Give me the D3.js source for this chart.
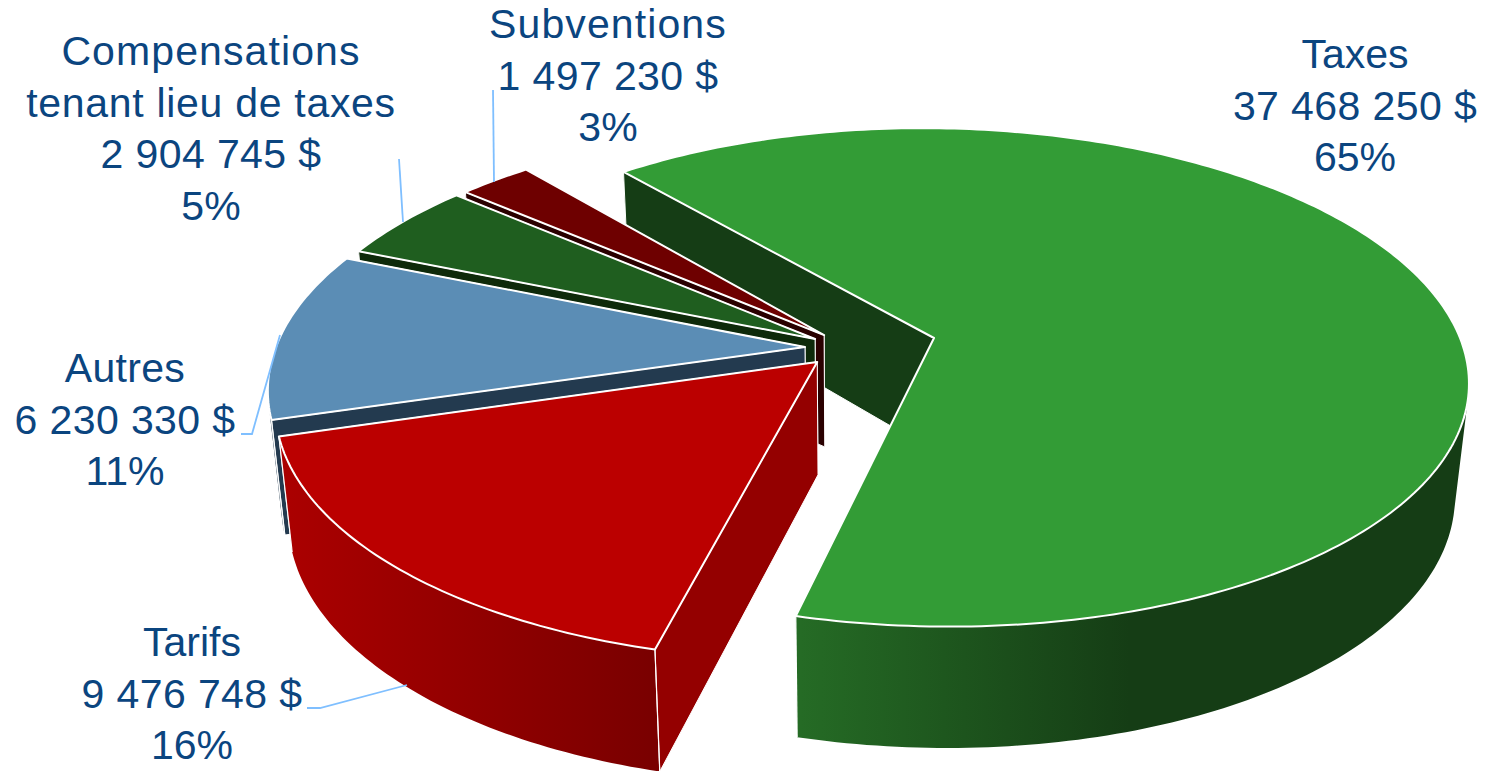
<!DOCTYPE html>
<html><head><meta charset="utf-8">
<script src="https://cdn.jsdelivr.net/npm/d3@7"></script>
<style>html,body{margin:0;padding:0;background:#fff;overflow:hidden}svg{display:block}</style>
</head><body><svg id="c" width="1485" height="771"></svg>
<script>
// --- data
const categories = ["Taxes", "Tarifs", "Autres", "Compensations tenant lieu de taxes", "Subventions"];
const values = [37468250, 9476748, 6230330, 2904745, 1497230];
// --- styles
const topColors  = ["#339c36", "#bb0000", "#5b8db5", "#1f5e1f", "#6e0000"];
const wallColors = ["#153d15", "#940000", "#233a4f", "#0e2a0a", "#2a0000"];
const rimColors  = [["#256b25", "#153d15"], ["#aa0000", "#7a0000"], ["#233a4f", "#233a4f"], ["#0e2a0a", "#0e2a0a"], ["#2a0000", "#2a0000"]];
const rimRange   = [[800, 1130], [290, 650], [260, 360], [350, 460], [460, 530]];
// --- exploded position of each slice in the pie plane (pie radius = 1)
const explodeX = [0, -0.221, -0.2447, -0.226, -0.209];
const explodeY = [0, 0.097, 0.037, 0.004, -0.012];
const drawOrder = [0, 4, 3, 2, 1];
// --- labels
const labelLines = [["Taxes"], ["Tarifs"], ["Autres"], ["Compensations", "tenant lieu de taxes"], ["Subventions"]];
const labelSpacing = [[0], [0], [0.3], [1.1, 0.7], [1.1]];
const labelX = [1355, 192, 125, 211, 608];
const labelBase = [68, 656, 382, 65, 38];
const lineGap = 51.5;
const leaders = [[], [[307,708],[320,708],[407,685]], [[241,434],[252,434],[280,335]], [[399,159],[403,222]], [[493,90],[494,182]]];

// --- perspective projection of the pie plane
const AX = 934, AY = 338, F = 526, A = 243, K = 0.158, Q = 13, VX = 852;
const thick = d3.scaleLinear().domain([-0.77, 0, 1.07]).range([102, 112, 122]);
function projTop(x, y) {
  const w = 1 - K * y;
  return [AX + (F * x + Q * y) / w, AY + A * y / w];
}
function projBottom(x, y) {
  const p = projTop(x, y), t = thick(y);
  return [p[0] + (VX - p[0]) * t / 5000, p[1] + t];
}
const svg = d3.select("#c");
const defs = svg.append("defs");
const line = d3.line();
const arcs = d3.pie().sort(null).startAngle(-40 * Math.PI / 180).endAngle(320 * Math.PI / 180)(values);
const total = d3.sum(values);

rimColors.forEach((c, i) => {
  const g = defs.append("linearGradient").attr("id", "rim" + i).attr("gradientUnits", "userSpaceOnUse")
    .attr("x1", rimRange[i][0]).attr("x2", rimRange[i][1]).attr("y1", 0).attr("y2", 0);
  g.append("stop").attr("offset", 0).attr("stop-color", c[0]);
  g.append("stop").attr("offset", 1).attr("stop-color", c[1]);
});

drawOrder.forEach(i => {
  const a = arcs[i], ox = explodeX[i], oy = explodeY[i];
  const n = Math.max(8, Math.round((a.endAngle - a.startAngle) * 60));
  const rim = d3.range(n + 1).map(k => {
    const th = a.startAngle + (a.endAngle - a.startAngle) * k / n;
    return [ox + Math.sin(th), oy - Math.cos(th)];
  });
  const g = svg.append("g").attr("class", "slice");
  const first = rim[0], last = rim[n];
  const wall = p => {
    g.append("path").attr("d", line([projTop(...p), projTop(ox, oy), projBottom(ox, oy), projBottom(...p)]) + "Z")
      .attr("fill", wallColors[i]).attr("stroke", "#fff").attr("stroke-width", 1).attr("stroke-linejoin", "round");
  };
  // hidden radial wall, then outer wall, then visible radial wall
  wall(last);
  const rimTop = rim.map(p => projTop(...p));
  // outer wall: same-orientation quads so the fold at the silhouette stays filled
  const quads = d3.range(n).map(k => {
    const q = [rimTop[k], rimTop[k + 1], projBottom(...rim[k + 1]), projBottom(...rim[k])];
    if (d3.polygonArea(q) < 0) q.reverse();
    return line(q) + "Z";
  }).join("");
  g.append("path").attr("d", quads).attr("fill", `url(#rim${i})`).attr("fill-rule", "nonzero");
  wall(first);
  // corner edges of the rim
  [first, last].forEach(p => {
    if (p[1] > oy) g.append("path").attr("d", line([projTop(...p), projBottom(...p)]))
      .attr("stroke", "#fff").attr("stroke-width", 1.2).attr("fill", "none");
  });
  // top face
  g.append("path").attr("d", line([projTop(ox, oy)].concat(rimTop)) + "Z").attr("fill", topColors[i])
    .attr("stroke", "#fff").attr("stroke-width", 2).attr("stroke-linejoin", "round");
});

// leader lines
leaders.forEach(l => {
  if (l.length) svg.append("path").attr("d", line(l)).attr("fill", "none")
    .attr("stroke", "#7fbfff").attr("stroke-width", 1.8);
});

// labels
const fmt = d3.format(",");
categories.forEach((c, i) => {
  const lines = labelLines[i].concat([fmt(values[i]).replace(/,/g, " ") + " $", Math.round(values[i] / total * 100) + "%"]);
  const t = svg.append("text").attr("text-anchor", "middle").attr("fill", "#0b457f")
    .attr("font-family", "'Liberation Sans', Arial, sans-serif").attr("font-size", 41);
  lines.forEach((s, k) => t.append("tspan").attr("x", labelX[i]).attr("y", labelBase[i] + k * lineGap)
    .attr("letter-spacing", k < labelSpacing[i].length ? labelSpacing[i][k] : (k === lines.length - 2 ? 0.4 : 0)).text(s));
});
</script></body></html>
